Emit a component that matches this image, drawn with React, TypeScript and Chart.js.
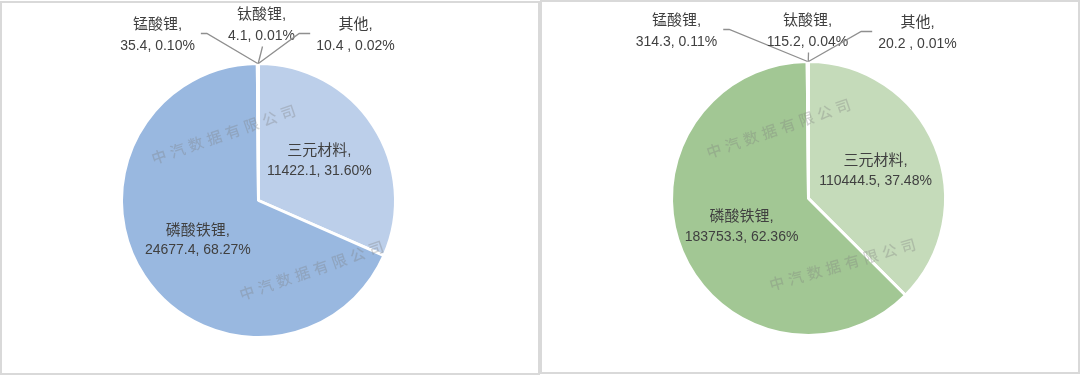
import React, { useEffect, useRef } from "react";
import { Chart, registerables } from "chart.js";

Chart.register(...registerables);

// ---- data ----
const categories = ["三元材料", "磷酸铁锂", "锰酸锂", "钛酸锂", "其他"];
const leftValues = [11422.1, 24677.4, 35.4, 4.1, 10.4];
const leftPercents = ["31.60%", "68.27%", "0.10%", "0.01%", "0.02%"];
const rightValues = [110444.5, 183753.3, 314.3, 115.2, 20.2];
const rightPercents = ["37.48%", "62.36%", "0.11%", "0.04%", "0.01%"];
const leftColors = ["#BCCFEA", "#99B8E0", "#7FA3D4", "#6E94C9", "#A9C1E3"];
const rightColors = ["#C5DBBA", "#A2C794", "#8DB87C", "#7FAE6D", "#B3D1A5"];
const watermark = "中汽数据有限公司";

// ---- layout (label placement relative to pie centre) ----
type SmallLabel = { dx: number; dy: number; side: "left" | "top" | "right" };
const leftSmall: SmallLabel[] = [
  { dx: -101, dy: -165, side: "left" },
  { dx: 3, dy: -175, side: "top" },
  { dx: 97, dy: -165, side: "right" },
];
const rightSmall: SmallLabel[] = [
  { dx: -132, dy: -167, side: "left" },
  { dx: -1, dy: -167, side: "top" },
  { dx: 109, dy: -165, side: "right" },
];

const CJK = "'Liberation Sans', 'Noto Sans CJK SC', sans-serif";

function fmtValue(v: number, i: number) {
  const s = v.toFixed(1);
  return i === 4 ? s + " " : s;
}

function makeLabelPlugin(
  percents: string[],
  small: SmallLabel[],
  marks: { dx: number; dy: number; ang: number }[]
) {
  return {
    id: "pieLabels",
    afterDatasetsDraw(chart: any) {
      const ctx = chart.ctx as CanvasRenderingContext2D;
      const meta = chart.getDatasetMeta(0);
      const data = chart.data.datasets[0].data as number[];
      const labels = chart.data.labels as string[];
      const arcs = meta.data;
      if (!arcs.length) return;
      const cx = arcs[0].x;
      const cy = arcs[0].y;
      const r = arcs[0].outerRadius;
      ctx.save();
      // watermarks
      ctx.fillStyle = "rgba(125,125,125,0.32)";
      ctx.font = `500 15px 'Noto Sans CJK SC', sans-serif`;
      ctx.textAlign = "center";
      ctx.textBaseline = "middle";
      for (const m of marks) {
        ctx.save();
        ctx.translate(cx + m.dx, cy + m.dy);
        ctx.rotate(m.ang);
        const chars = Array.from(watermark);
        const step = 19.5;
        chars.forEach((c, k) => {
          ctx.fillText(c, (k - (chars.length - 1) / 2) * step, 0);
        });
        ctx.restore();
      }
      ctx.fillStyle = "#404040";
      ctx.textAlign = "center";
      ctx.textBaseline = "middle";
      arcs.forEach((arc: any, i: number) => {
        const mid = (arc.startAngle + arc.endAngle) / 2;
        const line1 = labels[i] + ",";
        const line2 = fmtValue(data[i], i) + ", " + percents[i];
        if (i < 2) {
          const lx = cx + Math.cos(mid) * r * 0.53;
          const ly = cy + Math.sin(mid) * r * 0.53;
          ctx.font = `15px ${CJK}`;
          ctx.fillText(line1, lx, ly - 10);
          ctx.font = `14px ${CJK}`;
          ctx.fillText(line2, lx, ly + 10);
          return;
        }
        const s = small[i - 2];
        const lx = cx + s.dx;
        const ly = cy + s.dy;
        ctx.font = `15px ${CJK}`;
        ctx.fillText(line1, lx, ly - 10.5);
        const w1 = ctx.measureText(line1).width;
        ctx.font = `14px ${CJK}`;
        ctx.fillText(line2, lx, ly + 10.5);
        const w = Math.max(ctx.measureText(line2).width, w1);
        const ax = cx + Math.cos(mid) * arc.outerRadius;
        const ay = cy + Math.sin(mid) * arc.outerRadius;
        ctx.strokeStyle = "#8f8f8f";
        ctx.lineWidth = 1.3;
        ctx.beginPath();
        if (s.side === "left") {
          const ex = lx + w / 2 + 6;
          const ey = ly - 2;
          ctx.moveTo(ex, ey);
          ctx.lineTo(ex + 6, ey);
          ctx.lineTo(ax, ay);
        } else if (s.side === "right") {
          const ex = lx - w / 2 - 6;
          const ey = ly - 2;
          ctx.moveTo(ex, ey);
          ctx.lineTo(ex - 11, ey);
          ctx.lineTo(ax, ay);
        } else {
          ctx.moveTo(lx + 1, ly + 21);
          ctx.lineTo(ax, ay);
        }
        ctx.stroke();
      });
      ctx.restore();
    },
  };
}

function PieBox(props: {
  values: number[];
  percents: string[];
  colors: string[];
  small: SmallLabel[];
  marks: { dx: number; dy: number; ang: number }[];
  padding: { left: number; right: number; top: number; bottom: number };
  box: { left: number; top: number; width: number; height: number };
  canvas: { left: number; width: number; height: number };
}) {
  const ref = useRef<HTMLCanvasElement | null>(null);
  useEffect(() => {
    if (!ref.current) return;
    const chart = new Chart(ref.current, {
      type: "pie",
      data: {
        labels: categories,
        datasets: [
          {
            data: props.values,
            backgroundColor: props.colors,
            borderColor: "#ffffff",
            borderWidth: 3,
          },
        ],
      },
      options: {
        responsive: false,
        animation: false,
        layout: { padding: props.padding },
        plugins: {
          legend: { display: false },
          tooltip: { enabled: false },
          title: { display: false },
        },
      },
      plugins: [makeLabelPlugin(props.percents, props.small, props.marks)],
    });
    return () => chart.destroy();
  }, []);
  return (
    <>
      <div
        style={{
          position: "absolute",
          left: props.box.left,
          top: props.box.top,
          width: props.box.width,
          height: props.box.height,
          border: "2px solid #d9d9d9",
          boxSizing: "border-box",
        }}
      />
      <canvas
        ref={ref}
        width={props.canvas.width}
        height={props.canvas.height}
        style={{
          position: "absolute",
          left: props.canvas.left,
          top: 0,
          width: props.canvas.width,
          height: props.canvas.height,
        }}
      />
    </>
  );
}

export default function App() {
  useEffect(() => {
    document.body.style.margin = "0";
    document.body.style.background = "#ffffff";
  }, []);
  const ang = (-19 * Math.PI) / 180;
  return (
    <div
      style={{
        position: "fixed",
        left: 0,
        top: 0,
        width: 1080,
        height: 386,
        background: "#fff",
        overflow: "hidden",
      }}
    >
      <PieBox
        values={leftValues}
        percents={leftPercents}
        colors={leftColors}
        small={leftSmall}
        marks={[
          { dx: -35, dy: -66, ang },
          { dx: 53, dy: 70, ang },
        ]}
        padding={{ left: 120, right: 144, top: 62, bottom: 37 }}
        box={{ left: 0, top: 1, width: 540, height: 374 }}
        canvas={{ left: 0, width: 541, height: 376 }}
      />
      <PieBox
        values={rightValues}
        percents={rightPercents}
        colors={rightColors}
        small={rightSmall}
        marks={[
          { dx: -30, dy: -70, ang },
          { dx: 34, dy: 66, ang: (-16 * Math.PI) / 180 },
        ]}
        padding={{ left: 128, right: 133, top: 60, bottom: 39 }}
        box={{ left: 540, top: 0, width: 540, height: 374 }}
        canvas={{ left: 542, width: 538, height: 376 }}
      />
    </div>
  );
}
